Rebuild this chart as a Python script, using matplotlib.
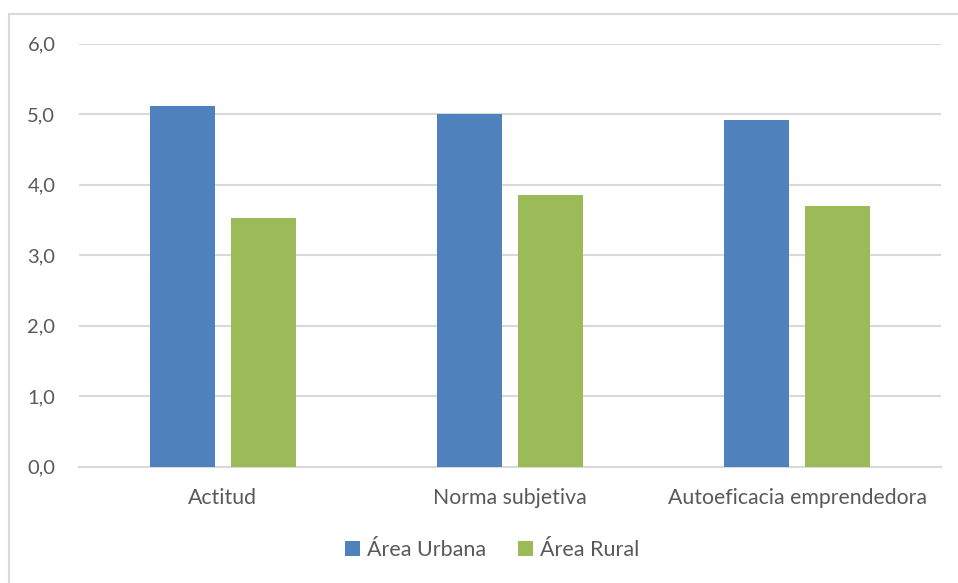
import matplotlib.pyplot as plt
from matplotlib.patches import Rectangle
import numpy as np

# datos
categorias = ["Actitud", "Norma subjetiva", "Autoeficacia emprendedora"]
urbana = [5.12, 5.00, 4.92]
rural = [3.53, 3.85, 3.70]
series = ["Área Urbana", "Área Rural"]
yticks = [0, 1, 2, 3, 4, 5, 6]

plt.rcParams['font.family'] = ['Lato', 'DejaVu Sans']
gris_txt = '#595959'

fig = plt.figure(figsize=(9.58, 5.83), dpi=100)
ax = fig.add_axes([79/958, 116.3/583, (940.7-79)/958, (539.3-116.3)/583])

x = np.arange(len(categorias))
ancho = 0.227
ax.bar(x - 0.141, urbana, ancho, color='#4f81bd', label=series[0], zorder=3)
ax.bar(x + 0.141, rural, ancho, color='#9bbb59', label=series[1], zorder=3)

ax.set_xlim(-0.5, 2.5)
ax.set_ylim(0, 6)
ax.set_yticks(yticks)
ax.set_yticklabels([f"{v:.1f}".replace('.', ',') for v in yticks])
ax.set_xticks(x)
ax.set_xticklabels(categorias)
ax.tick_params(axis='y', length=0, pad=17, labelsize=14.5, labelcolor=gris_txt)
ax.tick_params(axis='x', length=0, pad=15.5, labelsize=15.3, labelcolor=gris_txt)

ax.grid(axis='y', color='#d9d9d9', linewidth=1.5, zorder=0)
for s in ['left', 'right', 'top']:
    ax.spines[s].set_visible(False)
ax.spines['bottom'].set_color('#d9d9d9')
ax.spines['bottom'].set_linewidth(1.5)

ax.legend(loc='center', bbox_to_anchor=(492/958, (583-550)/583),
          bbox_transform=fig.transFigure, ncol=2, frameon=False,
          handlelength=0.7, handleheight=0.7, handletextpad=0.3,
          columnspacing=1.5, fontsize=15.5, labelcolor=gris_txt)

# borde del area del grafico
fig.add_artist(Rectangle((9/958, -0.1), 1.2, (583-14)/583 + 0.1,
                         transform=fig.transFigure, fill=False,
                         edgecolor='#d9d9d9', linewidth=1.5))

fig.savefig('out.png', dpi=100)
